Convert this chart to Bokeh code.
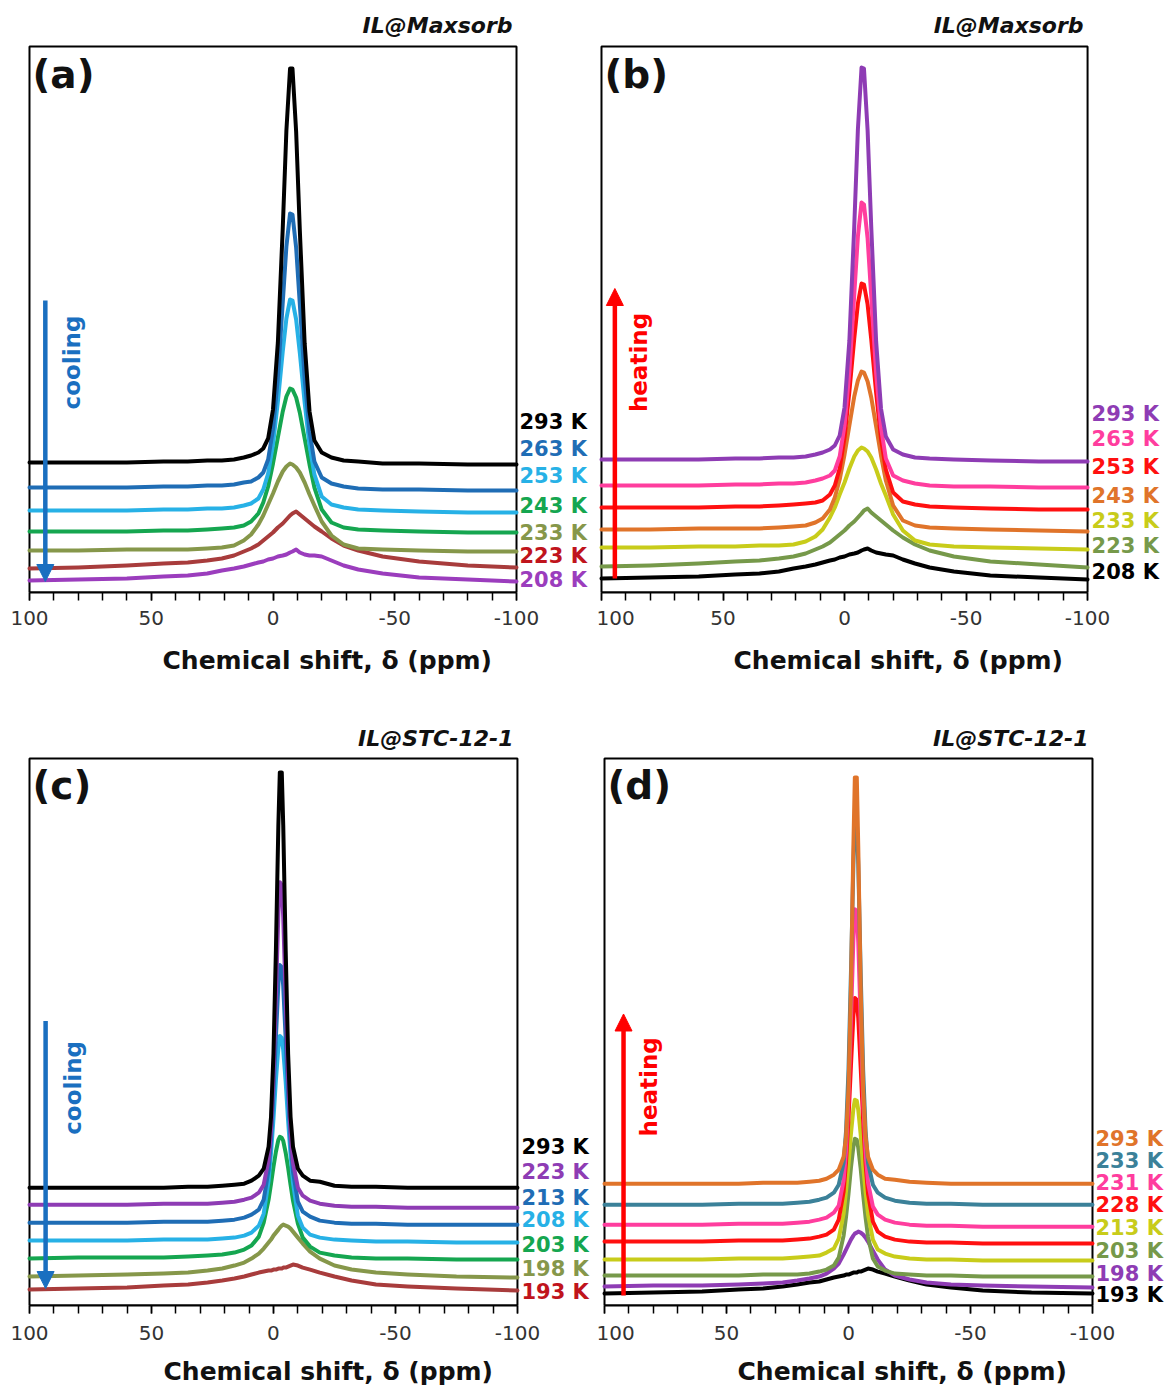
import math
from bokeh.plotting import figure
from bokeh.models import Range1d, Label, Arrow, NormalHead, SingleIntervalTicker, Title
from bokeh.layouts import column, row
from bokeh.embed import file_html
from bokeh.resources import INLINE

# ---------------- data ----------------
X_AB = [100, 80, 60, 45, 35, 27, 21, 16, 12, 9, 6, 4, 2, 0, -2, -4, -5.5, -7,
        -8, -9.5, -11, -13, -15, -17, -20, -24, -29, -35, -45, -60, -80, -100]
X_CD = [100, 80, 60, 45, 35, 27, 21, 16, 12, 9, 6, 4, 2, 1, 0, -1, -2, -2.6,
        -3.4, -4, -5, -6, -7, -8, -10, -12, -15, -19, -25, -32, -42, -55, -75, -100]

TICK_VALUES = [100, 50, 0, -50, -100]
TICK_LABELS = ["100", "50", "0", "-50", "-100"]
X_LABEL = "Chemical shift, δ (ppm)"

# (a) IL@Maxsorb, cooling
A_TEMPS = ["293 K", "263 K", "253 K", "243 K", "233 K", "223 K", "208 K"]
a_293 = [131,131,131,132,132,133,133,134,136,138,141,145,155,184,251,365,463,525,
         525,462,364,250,182,153,141,136,133,132,130,130,129,129]
a_263 = [106,106,106,107,107,108,108,109,111,112,116,121,134,164,216,291,347,380,
         379,346,290,215,162,132,116,110,107,105,104,104,103,103]
a_253 = [83,83,83,84,84,85,85,86,88,90,95,104,120,149,192,242,275,294,
         293,274,241,191,148,119,97,89,86,84,83,82,81,81]
a_243 = [62,62,62,63,63,64,65,66,68,72,80,91,107,130,156,182,197,205,
         204,196,181,155,129,106,84,71,66,64,63,62,61,61]
a_233 = [43,43,44,44,44,45,46,48,53,59,69,78,89,100,112,122,127,130,
         129,126,121,111,99,88,72,58,49,45,44,43,42,42]
a_223 = [25,26,28,30,31,33,35,38,42,45,49,53,57,61,66,70,74,78,
         80,82,79,75,71,67,62,55,48,43,37,32,28,26]
a_208 = [13,14,15,17,18,20,23,25,27,29,31,32,34,35,37,38,39,41,
         42,44,41,39,38,38,37,33,28,24,20,16,14,12]

# (b) IL@Maxsorb, heating
B_TEMPS = ["293 K", "263 K", "253 K", "243 K", "233 K", "223 K", "208 K"]
b_293 = [134,134,134,135,135,136,136,137,139,141,144,148,158,186,253,367,464,526,
         525,463,366,252,185,157,144,139,136,135,134,133,132,132]
b_263 = [108,108,108,109,109,110,110,111,113,115,118,123,137,168,222,299,357,391,
         389,355,297,220,166,135,118,113,110,108,107,107,106,106]
b_253 = [86,86,86,87,87,88,89,90,91,93,99,108,125,156,202,255,290,310,
         309,289,254,201,155,124,101,92,89,87,86,85,84,84]
b_243 = [64,64,65,65,65,66,67,68,71,75,84,96,114,139,168,197,213,222,
         221,212,196,167,138,113,88,73,68,66,65,64,63,62]
b_233 = [46,46,47,47,48,48,49,52,57,64,76,86,99,111,125,137,143,146,
         145,142,136,124,110,98,79,63,53,49,47,46,45,44]
b_223 = [27,28,30,32,33,35,37,40,44,47,51,55,59,63,68,72,76,80,
         83,85,81,77,73,69,63,56,49,43,37,32,29,26]
b_208 = [15,16,17,19,20,22,25,27,29,31,33,34,36,37,39,40,41,43,
         44,45,43,41,40,39,38,34,30,26,22,18,16,14]

# (c) IL@STC-12-1, cooling
C_TEMPS = ["293 K", "223 K", "213 K", "208 K", "203 K", "198 K", "193 K"]
c_293 = [118,118,118,118,119,119,120,121,122,125,130,137,159,189,252,356,481,534,
         534,481,356,252,189,159,137,130,125,124,120,119,119,118,118,118]
c_223 = [101,101,101,102,102,102,103,104,106,108,113,121,146,177,232,310,392,424,
         421,389,307,229,174,143,118,110,105,102,100,99,99,98,98,98]
c_213 = [83,83,83,84,84,84,85,86,88,91,96,106,136,167,213,269,322,341,
         339,320,267,211,165,134,104,94,89,85,83,82,82,81,81,81]
c_208 = [65,65,65,66,66,66,67,68,70,73,80,92,125,153,187,226,258,270,
         268,256,224,185,151,123,90,78,71,68,66,65,64,64,63,63]
c_203 = [47,48,48,48,49,50,51,53,56,60,69,83,106,122,139,154,166,169,
         168,165,153,138,121,105,82,68,59,53,50,48,47,47,46,46]
c_198 = [29,30,31,32,33,35,37,40,43,47,52,57,63,66,70,73,76,78,
         80,81,80,79,77,74,68,62,54,47,40,36,33,31,29,28]
c_193 = [16,17,18,20,21,23,25,27,29,31,33,34,35,35,36,36,37,37,
         37,38,38,39,40,41,40,38,36,33,29,25,21,19,17,15]

# (d) IL@STC-12-1, heating
D_TEMPS = ["293 K", "233 K", "231 K", "228 K", "213 K", "203 K", "198 K", "193 K"]
d_293 = [122,122,122,122,123,123,123,124,125,127,131,136,149,169,217,317,460,529,
         529,460,317,217,169,149,136,131,127,126,124,123,122,122,122,122]
d_233 = [101,101,101,102,102,102,103,104,106,108,113,121,143,175,236,333,442,487,
         487,442,333,236,175,143,121,113,108,105,103,102,102,101,101,101]
d_231 = [81,81,81,82,82,82,83,84,86,88,93,100,125,155,209,286,366,397,
         395,364,284,207,153,123,99,91,86,83,81,80,80,79,79,79]
d_228 = [64,64,64,65,65,65,66,67,69,71,76,86,114,144,187,240,290,308,
         306,288,238,185,142,112,84,74,69,66,64,63,63,62,62,62]
d_213 = [46,46,46,47,47,47,48,49,50,53,57,67,92,115,141,172,197,206,
         205,196,171,140,114,91,66,56,52,49,47,46,46,45,45,45]
d_203 = [30,30,30,30,31,31,31,32,34,36,40,48,70,89,112,138,159,167,
         166,158,137,111,88,69,47,39,35,32,31,30,30,29,29,29]
d_198 = [19,20,20,21,22,23,25,27,29,32,37,42,51,56,61,66,70,72,
         73,74,73,71,68,64,55,46,36,30,26,23,21,20,19,18]
d_193 = [12,13,14,16,17,19,21,23,24,26,28,29,30,31,31,32,33,33,
         33,34,34,35,36,37,36,34,32,29,25,21,18,15,13,12]

# ---------------- styles / layout ----------------
A_LINE = ["#000000", "#1f6db5", "#27b1e6", "#15a650", "#86974a", "#a83c3c", "#9b3dbd"]
A_TXT = ["#000000", "#1f6db5", "#27b1e6", "#15a650", "#86974a", "#c0141c", "#9b3dbd"]
B_LINE = ["#8e3cb4", "#ff3d9e", "#ff1010", "#e0742a", "#c8cc1a", "#76994a", "#000000"]
C_LINE = ["#000000", "#8e3cb4", "#1f6db5", "#27b1e6", "#15a650", "#86974a", "#a83c3c"]
C_TXT = ["#000000", "#8e3cb4", "#1f6db5", "#27b1e6", "#15a650", "#86974a", "#c0141c"]
D_LINE = ["#e0742a", "#3b8199", "#ff3d9e", "#ff1010", "#c8cc1a", "#76994a", "#8e3cb4", "#000000"]

A_LABEL_Y = [172, 145, 118, 88, 61, 38, 14]
B_LABEL_Y = [180, 155, 127, 98, 73, 48, 22]
C_LABEL_Y = [159, 134, 108, 86, 61, 37, 14]
D_LABEL_Y = [167, 145, 123, 101, 78, 55, 32, 11]

FONT = "DejaVu Sans"
BLUE = "#1a6fc0"
RED = "#ff0000"


def panel(width, height, bl, bt, bb, xr, yr, box_top, tick_standoff, xl_off, xl_standoff,
          xs, series, lcols, tcols, temps, lab_y, title, tag, word, wcol, wx, wy, arrow,
          title_y, lab_dx):
    p = figure(width=width, height=height, output_backend="svg", toolbar_location=None,
               x_range=Range1d(*xr), y_range=Range1d(*yr), tools="")
    p.min_border_left = bl
    p.min_border_right = 0
    p.min_border_top = bt
    p.min_border_bottom = bb
    p.background_fill_color = "white"
    p.border_fill_color = "white"
    p.outline_line_color = None
    p.xgrid.visible = False
    p.ygrid.visible = False
    p.yaxis.visible = False
    ax = p.xaxis[0]
    ax.bounds = (-100, 100)
    ax.ticker = SingleIntervalTicker(interval=50, num_minor_ticks=5)
    ax.major_label_overrides = {v: s for v, s in zip(TICK_VALUES, TICK_LABELS)}
    ax.axis_line_width = 2
    ax.major_tick_in = 0
    ax.major_tick_out = 8
    ax.minor_tick_in = 0
    ax.minor_tick_out = 8
    ax.major_tick_line_width = 1.5
    ax.minor_tick_line_width = 1.5
    ax.major_label_text_font = FONT
    ax.major_label_text_font_size = "20px"
    ax.major_label_text_color = "#333333"
    ax.major_label_standoff = tick_standoff
    p.add_layout(Title(text=X_LABEL, align="left", offset=xl_off, standoff=xl_standoff,
                       text_font=FONT, text_font_style="bold", text_font_size="25px",
                       text_color="#111111"), "below")

    # plot box
    p.quad(left=[100], right=[-100], bottom=[yr[0]], top=[box_top], fill_color=None,
           line_color="black", line_width=2)

    # curves: draw from bottom to top
    for ys, c in reversed(list(zip(series, lcols))):
        p.line(xs, ys, line_color=c, line_width=4, line_join="round", line_cap="round")

    for t, c, y in zip(temps, tcols, lab_y):
        p.add_layout(Label(x=-100, y=y, x_offset=lab_dx, text=t, text_font=FONT,
                           text_font_style="bold", text_font_size="21px", text_color=c,
                           text_align="left", text_baseline="middle"))
    p.add_layout(Label(x=-100, y=title_y, x_offset=-4, text=title, text_font=FONT,
                       text_font_style="bold italic", text_font_size="22px",
                       text_color="#111111", text_align="right", text_baseline="middle"))
    p.add_layout(Label(x=100, y=box_top, x_offset=3, y_offset=-5, text=tag, text_font=FONT,
                       text_font_style="bold", text_font_size="39px", text_color="#111111",
                       text_align="left", text_baseline="top"))
    p.add_layout(Label(x=wx, y=wy, text=word, text_font=FONT, text_font_style="bold",
                       text_font_size="23px", text_color=wcol, angle=math.pi / 2,
                       text_align="center", text_baseline="middle"))
    ax_x, y0, y1 = arrow
    p.add_layout(Arrow(end=NormalHead(size=17, fill_color=wcol, line_color=wcol),
                       x_start=ax_x, y_start=y0, x_end=ax_x, y_end=y1,
                       line_color=wcol, line_width=4.5))
    return p


pa = panel(596, 700, 26, 6, 108, (101.23, -132.85), (1, 587), 547, 10, 136, 33, X_AB,
           [a_293, a_263, a_253, a_243, a_233, a_223, a_208], A_LINE, A_TXT, A_TEMPS, A_LABEL_Y,
           "IL@Maxsorb", "(a)", "cooling", BLUE, 82.5, 231, (93.5, 293, 12), 568, 3)
pb = panel(572, 700, 2, 6, 108, (101.23, -133.3), (1, 587), 547, 10, 135, 33, X_AB,
           [b_293, b_263, b_253, b_243, b_233, b_223, b_208], B_LINE, B_LINE, B_TEMPS, B_LABEL_Y,
           "IL@Maxsorb", "(b)", "heating", RED, 84.5, 231, (94.5, 15, 305), 568, 4)
pc = panel(596, 698, 26, 6, 92, (101.23, -132.4), (0, 600), 548, 12, 137, 25, X_CD,
           [c_293, c_223, c_213, c_208, c_203, c_198, c_193], C_LINE, C_TXT, C_TEMPS, C_LABEL_Y,
           "IL@STC-12-1", "(c)", "cooling", BLUE, 82, 218, (93.4, 285, 17), 568, 4)
pd = panel(572, 698, 5, 6, 92, (101.23, -131.15), (0, 600), 548, 12, 136, 25, X_CD,
           [d_293, d_233, d_231, d_228, d_213, d_203, d_198, d_193], D_LINE, D_LINE, D_TEMPS,
           D_LABEL_Y, "IL@STC-12-1", "(d)", "heating", RED, 81.6, 219, (92.2, 10, 292), 568, 3)

layout = column(row(pa, pb), row(pc, pd))
open("out.html", "w").write(file_html(layout, INLINE))
